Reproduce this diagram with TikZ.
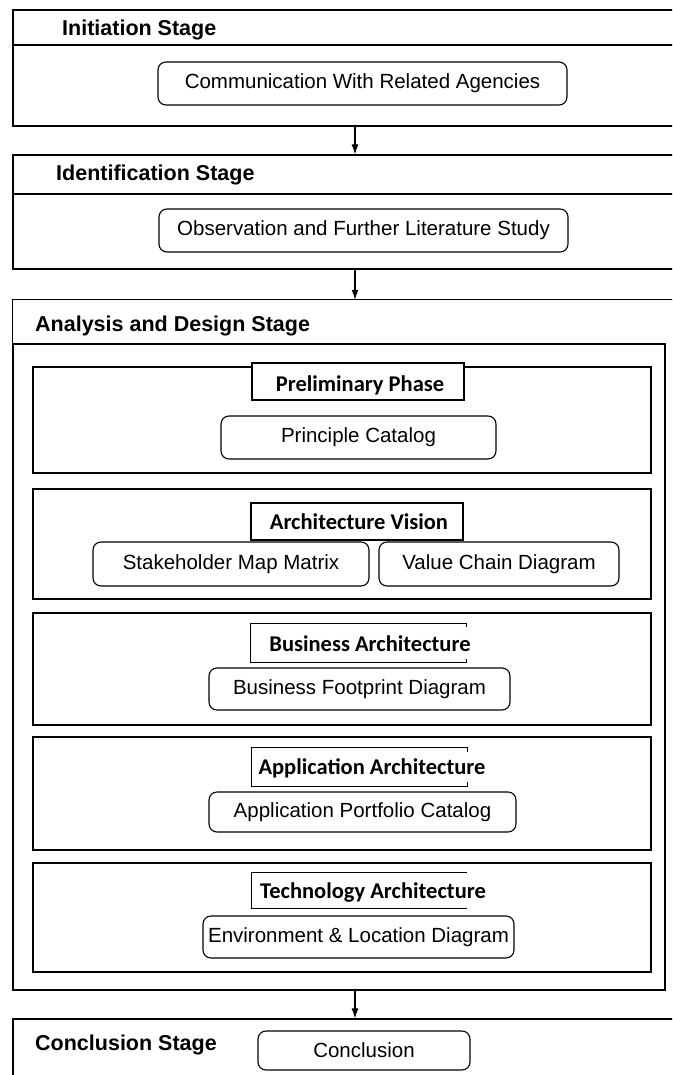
\documentclass[tikz,border=0pt]{standalone}
\usepackage{fontspec}
\setmainfont{Liberation Sans}
\newfontfamily\phasefont{Carlito}
\usetikzlibrary{fit,arrows.meta}
\begin{document}
\begin{tikzpicture}[x=1pt,y=-1pt,
  stage/.style={draw, line width=1.3pt, inner sep=0pt},
  stageline/.style={line width=1.3pt},
  stagetitle/.style={anchor=base west, inner sep=0pt, font=\fontsize{21.5}{24}\selectfont\bfseries},
  itemtext/.style={inner sep=0pt, font=\fontsize{20.5}{24}\selectfont},
  item/.style={draw, line width=1.1pt, rounded corners=8pt, inner sep=0pt, label={[itemtext]center:#1}},
  phase/.style={draw, line width=1.3pt, inner sep=0pt},
  phasebox/.style={draw, line width=1.1pt, fill=white, inner sep=0pt},
  openbox/.style={fill=white, inner sep=0pt},
  boxline/.style={line width=1.1pt},
  phasetitle/.style={anchor=base, inner sep=0pt, font=\fontsize{22.5}{26}\selectfont\phasefont\bfseries},
  flow/.style={line width=1.1pt, -{Latex[length=10pt,width=7pt]}}
]
\clip (0,0) rectangle (672,1075);
\coordinate (ax) at (355,0);

% Initiation stage
\node[stage, fit={(13,10) (690,126)}] (init) {};
\draw[stageline] (init.north west |- 0,45) -- (init.north east |- 0,45);
\node[stagetitle] (initt) at (62,36) {Initiation Stage};
\node[item={Communication With Related Agencies}, fit={(158,62) (567,105)}] (comm) {};

% Identification stage
\node[stage, fit={(13,155) (690,269)}] (ident) {};
\draw[stageline] (ident.north west |- 0,194) -- (ident.north east |- 0,194);
\node[stagetitle] (identt) at (56,181) {Identification Stage};
\node[item={Observation and Further Literature Study}, fit={(159,209) (568,252)}] (obs) {};

% Analysis and design stage
\node[inner sep=0pt, fit={(13,300) (690,990)}] (anal) {};
\draw[stageline] (anal.north east) -- (anal.north west) -- (anal.south west);
\node[stagetitle] (analt) at (35,331) {Analysis and Design Stage};
\node[stage, fit={(13,344) (665,990)}] (cont) {};

% Preliminary phase
\node[phase, fit={(33,367) (651,473)}] (prel) {};
\node[phasebox, fit={(252,363) (464,400)}] (prelb) {};
\node[phasetitle] (prelt) at (360,391) {Preliminary Phase};
\node[item={Principle Catalog}, fit={(221,416) (496,459)}] (prin) {};

% Architecture vision
\node[phase, fit={(33,489) (651,599)}] (av) {};
\node[phasebox, fit={(251,503) (463,540)}] (avb) {};
\node[phasetitle] (avt) at (359,529) {Architecture Vision};
\node[item={Stakeholder Map Matrix}, fit={(93,542) (369,586)}] (stake) {};
\node[item={Value Chain Diagram}, fit={(379,542) (619,586)}] (value) {};

% Business architecture
\node[phase, fit={(33,613) (651,725)}] (ba) {};
\node[openbox, fit={(251,624) (466,662)}] (bab) {};
\draw[boxline] ([yshift=-3pt]bab.north east) -- (bab.north east) -- (bab.north west) -- (bab.south west) -- (bab.south east) -- ([yshift=3pt]bab.south east);
\node[phasetitle] (bat) at (370,651) {Business Architecture};
\node[item={Business Footprint Diagram}, fit={(209,668) (510,710)}] (bfd) {};

% Application architecture
\node[phase, fit={(33,737) (651,850)}] (aa) {};
\node[openbox, fit={(252,748) (467,786)}] (aab) {};
\draw[boxline] ([yshift=-4pt]aab.north east) -- (aab.north east) -- (aab.north west) -- (aab.south west) -- (aab.south east) -- ([yshift=4pt]aab.south east);
\node[phasetitle] (aat) at (372,774) {Application Architecture};
\node[item={Application Portfolio Catalog}, fit={(209,792) (516,832)}] (apc) {};

% Technology architecture
\node[phase, fit={(33,863) (651,972)}] (ta) {};
\node[openbox, fit={(252,873) (467,908)}] (tab) {};
\draw[boxline] (tab.north east) -- (tab.north west) -- (tab.south west) -- (tab.south east);
\node[phasetitle] (tat) at (373,898) {Technology Architecture};
\node[item={Environment \& Location Diagram}, fit={(203,916) (514,958)}] (env) {};

% Conclusion stage
\node[stage, fit={(13,1019) (690,1095)}] (conc) {};
\node[stagetitle] (conct) at (35,1050) {Conclusion Stage};
\node[item={Conclusion}, fit={(258,1031) (470,1070)}] (concl) {};

% Connectors
\draw[flow] (init.south -| ax) -- (ident.north -| ax);
\draw[flow] (ident.south -| ax) -- (anal.north -| ax);
\draw[flow] (cont.south -| ax) -- (conc.north -| ax);
\end{tikzpicture}
\end{document}
